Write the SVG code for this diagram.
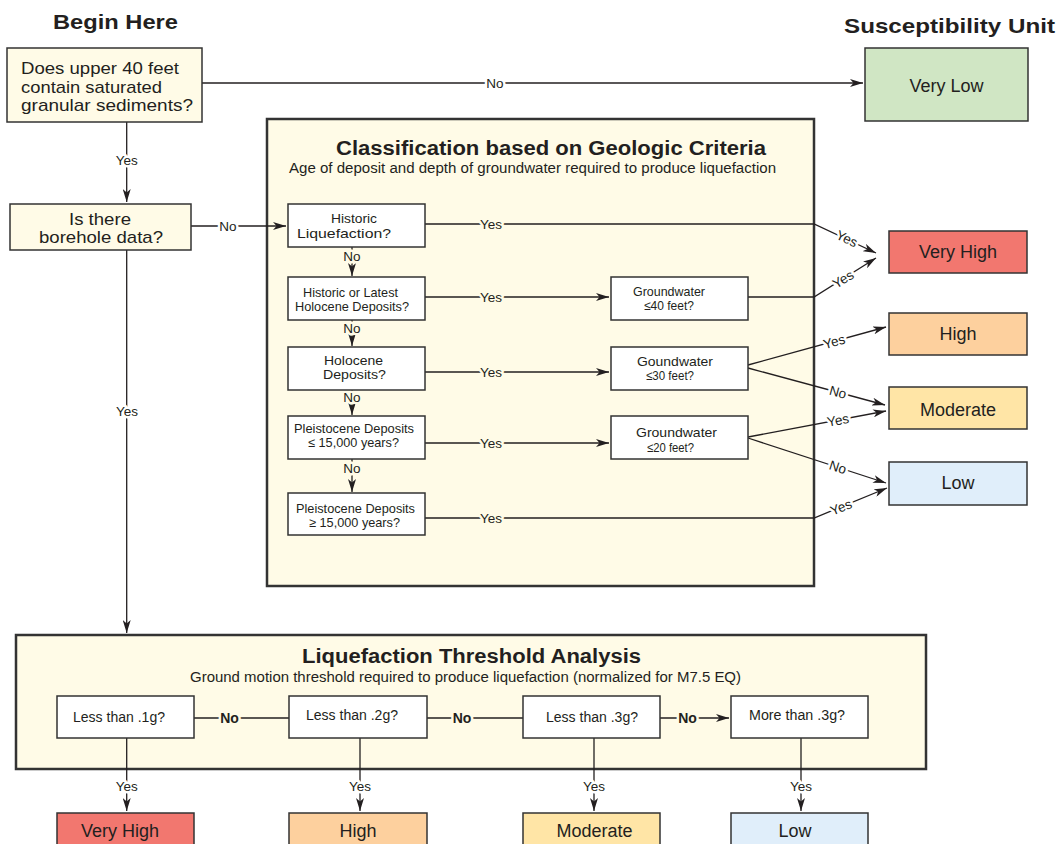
<svg xmlns="http://www.w3.org/2000/svg" width="1062" height="844" viewBox="0 0 1062 844">
<defs>
<marker id="arr" markerUnits="userSpaceOnUse" markerWidth="13" markerHeight="8" viewBox="0 0 13 8" refX="13" refY="4" orient="auto">
<path d="M0,0 L13,4 L0,8 L3.5,4 z" fill="#231f20"/>
</marker>
<style>
text{font-family:"Liberation Sans",Arial,Helvetica,sans-serif;fill:#231f20}
.h{font-weight:bold;font-size:21px}
.pt{font-weight:bold;font-size:20px}
.ps{font-size:14px}
.q{font-size:17px}
.s{font-size:13px}
.m{font-size:14px}
.r{font-size:18px;text-anchor:middle}
.l{font-size:13.5px;text-anchor:middle;paint-order:stroke;stroke-width:5px;stroke-linejoin:round}
.b{font-weight:bold;font-size:14px}
.w{stroke:#ffffff}
.c{stroke:#fffbe7}
.cream{fill:#fffbe7;stroke:#333;stroke-width:1.5}
.panel{fill:#fffbe7;stroke:#333;stroke-width:2.5}
.white{fill:#ffffff;stroke:#333;stroke-width:1.5}
.vh{fill:#f2776f;stroke:#333;stroke-width:1.5}
.hi{fill:#fdd09e;stroke:#333;stroke-width:1.5}
.mo{fill:#ffe5a6;stroke:#333;stroke-width:1.5}
.lo{fill:#e0eefa;stroke:#333;stroke-width:1.5}
.vl{fill:#d0e6c4;stroke:#333;stroke-width:1.5}
.ln{fill:none;stroke:#231f20;stroke-width:1.3}
</style>
</defs>
<rect width="1062" height="844" fill="#ffffff"/>

<g id="headings">
<text class="h" x="53" y="29" textLength="125" lengthAdjust="spacingAndGlyphs">Begin Here</text>
<text class="h" x="844" y="33" textLength="211" lengthAdjust="spacingAndGlyphs">Susceptibility Unit</text>
</g>

<g id="panel-geologic">
<rect class="panel" x="267" y="119" width="547" height="467"/>
<text class="pt" x="336" y="155" textLength="430" lengthAdjust="spacingAndGlyphs">Classification based on Geologic Criteria</text>
<text class="ps" x="289" y="173" textLength="487" lengthAdjust="spacingAndGlyphs">Age of deposit and depth of groundwater required to produce liquefaction</text>
</g>

<g id="panel-threshold">
<rect class="panel" x="16" y="635" width="910" height="134"/>
<text class="pt" x="302" y="663" textLength="339" lengthAdjust="spacingAndGlyphs">Liquefaction Threshold Analysis</text>
<text class="ps" x="190" y="682" textLength="551" lengthAdjust="spacingAndGlyphs">Ground motion threshold required to produce liquefaction (normalized for M7.5 EQ)</text>
</g>

<g id="connectors">
<path class="ln" d="M202,83 H863" marker-end="url(#arr)"/>
<path class="ln" d="M126.7,122 V202" marker-end="url(#arr)"/>
<path class="ln" d="M191,226 H286" marker-end="url(#arr)"/>
<path class="ln" d="M126.7,250 V633" marker-end="url(#arr)"/>
<path class="ln" d="M425,224 H814 L876,253" marker-end="url(#arr)"/>
<path class="ln" d="M425,297 H609" marker-end="url(#arr)"/>
<path class="ln" d="M748,297 H814 L876,258" marker-end="url(#arr)"/>
<path class="ln" d="M425,372 H609" marker-end="url(#arr)"/>
<path class="ln" d="M425,443 H609" marker-end="url(#arr)"/>
<path class="ln" d="M425,518 H814 L887,488" marker-end="url(#arr)"/>
<path class="ln" d="M748,365 L886,327" marker-end="url(#arr)"/>
<path class="ln" d="M748,368 L885,405" marker-end="url(#arr)"/>
<path class="ln" d="M748,437 L886,411" marker-end="url(#arr)"/>
<path class="ln" d="M748,438 L886,483" marker-end="url(#arr)"/>
<path class="ln" d="M352,247 V276" marker-end="url(#arr)"/>
<path class="ln" d="M352,320 V346" marker-end="url(#arr)"/>
<path class="ln" d="M352,390 V415" marker-end="url(#arr)"/>
<path class="ln" d="M352,459 V492" marker-end="url(#arr)"/>
<path class="ln" d="M194,718 H289"/>
<path class="ln" d="M427,718 H523"/>
<path class="ln" d="M660,718 H729" marker-end="url(#arr)"/>
<path class="ln" d="M126.7,738 V811" marker-end="url(#arr)"/>
<path class="ln" d="M360,738 V811" marker-end="url(#arr)"/>
<path class="ln" d="M594,738 V811" marker-end="url(#arr)"/>
<path class="ln" d="M801,738 V811" marker-end="url(#arr)"/>

<text class="l w" x="495" y="83" dy="0.36em">No</text>
<text class="l w" x="126.7" y="160" dy="0.36em">Yes</text>
<text class="l w" x="228" y="226" dy="0.36em">No</text>
<text class="l w" x="127" y="411" dy="0.36em">Yes</text>
<text class="l c" x="491" y="224" dy="0.36em">Yes</text>
<text class="l c" x="491" y="297" dy="0.36em">Yes</text>
<text class="l c" x="491" y="372" dy="0.36em">Yes</text>
<text class="l c" x="491" y="443" dy="0.36em">Yes</text>
<text class="l c" x="491" y="518" dy="0.36em">Yes</text>
<text class="l c" x="352" y="256" dy="0.36em">No</text>
<text class="l c" x="352" y="328" dy="0.36em">No</text>
<text class="l c" x="352" y="397" dy="0.36em">No</text>
<text class="l c" x="352" y="468" dy="0.36em">No</text>
<text class="l w" transform="translate(847,238.5) rotate(24.7)" dy="0.36em">Yes</text>
<text class="l w" transform="translate(843,279) rotate(-32)" dy="0.36em">Yes</text>
<text class="l w" transform="translate(834,341.5) rotate(-15.4)" dy="0.36em">Yes</text>
<text class="l w" transform="translate(838,392) rotate(15)" dy="0.36em">No</text>
<text class="l w" transform="translate(838,420) rotate(-10.6)" dy="0.36em">Yes</text>
<text class="l w" transform="translate(838,467) rotate(18)" dy="0.36em">No</text>
<text class="l w" transform="translate(841,507) rotate(-22)" dy="0.36em">Yes</text>
<text class="l b c" x="229.5" y="718" dy="0.36em">No</text>
<text class="l b c" x="462" y="718" dy="0.36em">No</text>
<text class="l b c" x="687.5" y="718" dy="0.36em">No</text>
<text class="l w" x="126.7" y="786" dy="0.36em">Yes</text>
<text class="l w" x="360" y="786" dy="0.36em">Yes</text>
<text class="l w" x="594" y="786" dy="0.36em">Yes</text>
<text class="l w" x="801" y="786" dy="0.36em">Yes</text>
</g>

<g id="n-upper40">
<rect class="cream" x="7" y="48" width="195" height="74"/>
<text class="q" x="21" y="74" textLength="158" lengthAdjust="spacingAndGlyphs">Does upper 40 feet</text>
<text class="q" x="21" y="92.5" textLength="141" lengthAdjust="spacingAndGlyphs">contain saturated</text>
<text class="q" x="21" y="111" textLength="172" lengthAdjust="spacingAndGlyphs">granular sediments?</text>
</g>

<g id="n-borehole">
<rect class="cream" x="10" y="204" width="181" height="46"/>
<text class="q" x="69" y="225" textLength="62" lengthAdjust="spacingAndGlyphs">Is there</text>
<text class="q" x="39" y="243" textLength="124" lengthAdjust="spacingAndGlyphs">borehole data?</text>
</g>

<g id="n-verylow">
<rect class="vl" x="865" y="48" width="163" height="73"/>
<text class="r" x="946.5" y="92">Very Low</text>
</g>

<g id="n-historic">
<rect class="white" x="288" y="204" width="137" height="43"/>
<text class="s" x="331" y="223" textLength="46" lengthAdjust="spacingAndGlyphs">Historic</text>
<text class="s" x="297" y="238" textLength="94" lengthAdjust="spacingAndGlyphs">Liquefaction?</text>
</g>

<g id="n-latest-holocene">
<rect class="white" x="288" y="277" width="137" height="43"/>
<text class="s" x="303" y="297" textLength="95" lengthAdjust="spacingAndGlyphs">Historic or Latest</text>
<text class="s" x="295" y="311" textLength="114" lengthAdjust="spacingAndGlyphs">Holocene Deposits?</text>
</g>

<g id="n-holocene">
<rect class="white" x="288" y="347" width="137" height="43"/>
<text class="s" x="324" y="365" textLength="59" lengthAdjust="spacingAndGlyphs">Holocene</text>
<text class="s" x="323" y="379" textLength="63" lengthAdjust="spacingAndGlyphs">Deposits?</text>
</g>

<g id="n-pleist-young">
<rect class="white" x="288" y="416" width="137" height="43"/>
<text class="s" x="294" y="433" textLength="120" lengthAdjust="spacingAndGlyphs">Pleistocene Deposits</text>
<text class="s" x="308" y="447" textLength="91" lengthAdjust="spacingAndGlyphs">≤ 15,000 years?</text>
</g>

<g id="n-pleist-old">
<rect class="white" x="288" y="493" width="137" height="42"/>
<text class="s" x="296" y="513" textLength="119" lengthAdjust="spacingAndGlyphs">Pleistocene Deposits</text>
<text class="s" x="309" y="527" textLength="91" lengthAdjust="spacingAndGlyphs">≥ 15,000 years?</text>
</g>

<g id="n-gw40">
<rect class="white" x="611" y="277" width="137" height="43"/>
<text class="s" x="633" y="296" textLength="72" lengthAdjust="spacingAndGlyphs">Groundwater</text>
<text class="s" x="644" y="310" textLength="50" lengthAdjust="spacingAndGlyphs">≤40 feet?</text>
</g>

<g id="n-gw30">
<rect class="white" x="611" y="347" width="137" height="43"/>
<text class="s" x="637" y="366" textLength="76" lengthAdjust="spacingAndGlyphs">Goundwater</text>
<text class="s" x="646" y="380" textLength="48" lengthAdjust="spacingAndGlyphs">≤30 feet?</text>
</g>

<g id="n-gw20">
<rect class="white" x="611" y="416" width="137" height="43"/>
<text class="s" x="636" y="437" textLength="81" lengthAdjust="spacingAndGlyphs">Groundwater</text>
<text class="s" x="647" y="452" textLength="47" lengthAdjust="spacingAndGlyphs">≤20 feet?</text>
</g>

<g id="n-r-veryhigh">
<rect class="vh" x="889" y="231" width="138" height="42"/>
<text class="r" x="958" y="258">Very High</text>
</g>
<g id="n-r-high">
<rect class="hi" x="889" y="313" width="138" height="42"/>
<text class="r" x="958" y="340">High</text>
</g>
<g id="n-r-moderate">
<rect class="mo" x="889" y="387" width="138" height="42"/>
<text class="r" x="958" y="416">Moderate</text>
</g>
<g id="n-r-low">
<rect class="lo" x="889" y="462" width="138" height="43"/>
<text class="r" x="958" y="489">Low</text>
</g>

<g id="n-lt1">
<rect class="white" x="57" y="696" width="137" height="42"/>
<text class="m" x="73" y="722" textLength="92" lengthAdjust="spacingAndGlyphs">Less than .1g?</text>
</g>
<g id="n-lt2">
<rect class="white" x="289" y="696" width="138" height="42"/>
<text class="m" x="306" y="720" textLength="92" lengthAdjust="spacingAndGlyphs">Less than .2g?</text>
</g>
<g id="n-lt3">
<rect class="white" x="523" y="696" width="137" height="42"/>
<text class="m" x="546" y="722" textLength="92" lengthAdjust="spacingAndGlyphs">Less than .3g?</text>
</g>
<g id="n-gt3">
<rect class="white" x="731" y="696" width="137" height="42"/>
<text class="m" x="749" y="720" textLength="96" lengthAdjust="spacingAndGlyphs">More than .3g?</text>
</g>

<g id="n-b-veryhigh">
<rect class="vh" x="57" y="813" width="137" height="40"/>
<text class="r" x="120" y="837">Very High</text>
</g>
<g id="n-b-high">
<rect class="hi" x="289" y="813" width="138" height="40"/>
<text class="r" x="358" y="837">High</text>
</g>
<g id="n-b-moderate">
<rect class="mo" x="523" y="813" width="137" height="40"/>
<text class="r" x="594.5" y="837">Moderate</text>
</g>
<g id="n-b-low">
<rect class="lo" x="731" y="813" width="137" height="40"/>
<text class="r" x="795" y="837">Low</text>
</g>
</svg>
